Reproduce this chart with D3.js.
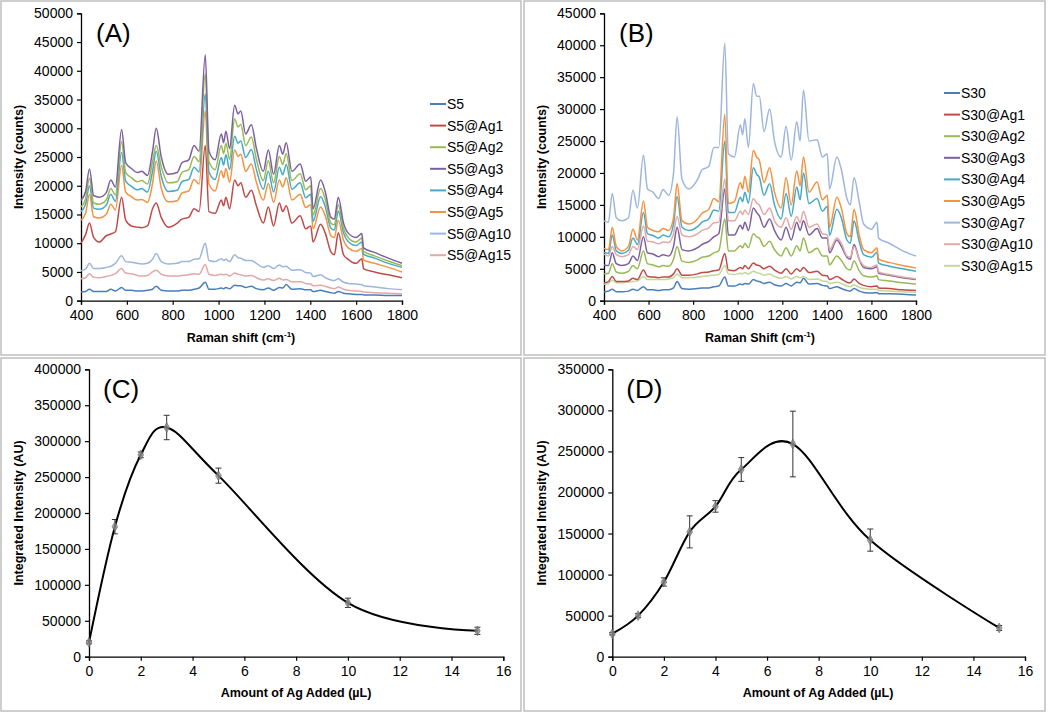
<!DOCTYPE html>
<html>
<head>
<meta charset="utf-8">
<script src="https://cdn.jsdelivr.net/npm/d3@7"></script>
<style>
body { margin: 0; background: #fff; }
svg text { font-family: "Liberation Sans", Arial, sans-serif; fill: #000; }
</style>
</head>
<body>
<svg id="fig" width="1050" height="713"></svg>
<script>
// Raman shift sample points (cm-1), shared by panels A and B
const shift = [400,420,437,455,480,510,530,550,577,595,620,645,665,690,712,728,750,780,820,840,
  870,893,915,942,958,985,1012,1022,1032,1048,1070,1085,1097,1118,1143,1165,1195,1217,1240,1265,
  1280,1295,1320,1356,1380,1402,1412,1445,1465,1490,1505,1522,1545,1565,1600,1625,1632,1680,1740,1800];

// Panel A intensities, thousands of counts
const namesA = ["S5","S5@Ag1","S5@Ag2","S5@Ag3","S5@Ag4","S5@Ag5","S5@Ag10","S5@Ag15"];
const s5 = [1.5,1.6,2.0,1.6,1.6,1.6,2.0,1.7,2.3,1.8,1.8,1.7,1.7,1.8,2.0,2.5,1.8,1.7,1.7,1.8,
  1.8,2.0,2.2,3.2,2.0,2.0,2.2,2.1,2.3,2.1,2.7,2.6,2.6,2.3,2.5,2.1,1.9,2.2,1.8,2.3,
  2.2,2.8,2.0,2.1,1.9,1.9,1.6,1.8,1.6,1.4,1.3,1.6,1.3,1.2,1.1,1.1,1.0,1.0,0.9,0.9];
const s5Ag1 = [10.0,11.5,13.5,11.0,10.2,11.3,11.6,12.0,18.0,14.0,13.0,12.8,12.7,13.0,16.0,17.0,14.5,12.8,13.5,14.2,
  14.5,16.0,15.5,27.0,15.5,15.2,17.5,16.5,18.0,16.0,21.0,20.0,20.5,18.0,19.2,16.5,13.5,16.3,13.0,17.0,
  15.5,16.5,13.5,14.8,12.5,13.0,10.2,13.3,11.8,8.5,8.0,11.8,8.0,7.2,6.5,7.3,5.6,5.0,4.5,4.0];
const s5Ag2 = [16.3,17.7,21.3,17.0,16.8,17.5,19.5,18.4,27.7,22.3,21.4,20.7,20.9,20.3,24.2,27.0,23.3,20.5,20.7,22.3,
  22.8,25.1,24.2,39.5,24.2,22.8,27.0,25.6,27.4,24.6,31.6,30.2,30.7,27.0,28.5,24.6,20.9,24.4,20.5,25.1,
  23.7,25.6,20.9,22.1,19.3,20.0,14.9,19.5,17.7,13.5,13.2,16.7,12.6,11.0,10.2,10.9,8.6,7.8,6.9,6.1];
const s5Ag3 = [17.5,19.0,22.9,18.3,18.0,18.8,21.0,19.8,29.8,24.0,23.0,22.3,22.5,21.8,26.0,30.0,25.0,22.0,22.3,24.0,
  24.5,27.0,26.0,42.8,26.0,24.5,29.0,27.5,29.5,26.5,34.0,32.5,33.0,29.0,30.6,26.5,22.5,26.2,22.0,27.0,
  25.5,27.5,22.5,23.8,20.8,21.5,16.0,21.0,19.0,14.5,14.2,18.0,13.5,11.8,11.0,11.7,9.2,8.4,7.4,6.5];
const s5Ag4 = [15.5,16.8,20.0,16.1,15.9,16.6,18.5,17.3,25.8,20.8,19.9,19.3,19.5,18.9,22.5,26.0,21.6,19.0,19.2,20.7,
  21.1,23.2,22.4,36.0,22.4,21.1,24.9,23.6,25.4,22.8,28.6,27.4,27.8,24.9,26.3,22.8,19.4,22.5,18.9,23.2,
  21.9,23.7,19.4,20.5,17.9,18.5,13.8,18.1,16.4,12.6,12.3,15.6,11.8,10.3,9.6,10.2,8.1,7.4,6.5,5.8];
const s5Ag5 = [14.0,15.2,18.5,14.6,14.4,15.0,16.8,15.8,23.5,18.9,18.1,17.5,17.6,17.1,20.4,24.3,19.6,17.2,17.4,18.7,
  19.1,21.1,20.3,33.0,20.3,19.1,22.6,21.4,23.0,20.6,26.2,25.1,25.5,22.5,23.8,20.6,17.5,20.4,17.1,21.0,
  19.8,21.4,17.5,18.5,16.2,16.7,12.5,16.3,14.8,11.3,11.0,14.0,10.5,9.2,8.6,9.1,7.1,6.5,5.8,5.0];
const s5Ag10 = [5.2,5.5,6.5,5.6,5.6,5.8,6.0,6.5,7.8,6.8,6.7,6.5,6.4,6.5,7.2,8.2,6.8,6.4,6.5,6.8,
  6.8,7.2,7.3,10.0,7.0,6.8,7.3,7.0,7.2,6.8,8.0,7.5,7.4,7.0,7.0,6.5,5.8,6.1,5.6,6.2,
  5.9,6.0,5.3,5.4,4.9,4.8,4.2,4.5,4.0,3.6,3.5,3.8,3.2,3.0,2.9,2.8,2.6,2.4,2.1,1.9];
const s5Ag15 = [3.8,4.0,4.7,4.1,4.0,4.2,4.4,4.7,5.6,4.8,4.7,4.4,4.3,4.4,5.0,5.3,4.6,4.3,4.3,4.4,
  4.5,4.7,4.6,6.3,4.6,4.4,4.6,4.5,4.6,4.3,4.8,4.6,4.5,4.3,4.4,4.0,3.6,3.8,3.5,3.9,
  3.6,3.7,3.3,3.3,3.0,2.9,2.6,2.7,2.5,2.2,2.1,2.4,2.0,1.8,1.7,1.6,1.5,1.4,1.3,1.2];

// Panel B intensities, thousands of counts
const namesB = ["S30","S30@Ag1","S30@Ag2","S30@Ag3","S30@Ag4","S30@Ag5","S30@Ag7","S30@Ag10","S30@Ag15"];
const s30 = [1.4,1.5,1.8,1.4,1.4,1.5,1.8,1.6,2.2,1.7,1.7,1.6,1.7,1.7,2.0,3.0,1.9,1.8,1.9,2.0,
  2.0,2.2,2.3,3.7,2.3,2.3,2.6,2.5,2.7,2.6,3.3,3.1,3.0,2.7,2.9,2.5,2.3,2.7,2.3,2.9,
  2.8,3.5,2.6,2.7,2.4,2.3,1.9,2.2,1.9,1.6,1.5,1.9,1.5,1.3,1.2,1.3,1.1,1.1,1.0,0.9];
const s30Ag1 = [2.8,3.0,3.8,3.0,3.0,3.1,3.5,3.3,4.8,3.8,3.7,3.6,3.7,3.7,4.2,5.0,4.0,4.0,4.2,4.4,
  4.5,4.7,4.8,7.4,4.8,4.7,5.2,5.0,5.5,5.0,5.9,5.6,5.5,5.0,5.4,4.8,4.3,5.0,4.2,5.0,
  4.6,5.2,4.4,4.6,4.0,3.9,3.3,3.8,3.4,2.9,2.8,3.4,2.7,2.4,2.2,2.3,2.0,1.9,1.7,1.6];
const s30Ag2 = [4.2,4.3,5.8,4.5,4.3,4.6,5.5,5.0,7.8,5.8,5.6,5.3,5.5,5.4,6.5,8.5,6.2,6.0,6.4,6.8,
  7.0,7.5,7.8,12.8,7.8,7.8,8.6,8.3,9.0,8.3,10.5,10.0,9.8,8.5,9.3,8.0,7.0,8.3,7.0,8.6,
  7.8,9.8,7.5,8.2,7.0,7.0,5.6,7.0,6.3,5.0,4.8,6.2,4.7,3.9,3.7,3.9,3.3,3.1,2.8,2.6];
const s30Ag3 = [5.6,5.5,7.5,5.8,5.5,5.8,7.0,6.3,10.0,7.5,7.3,6.9,7.2,7.0,8.5,11.5,8.0,7.8,8.3,8.8,
  9.3,10.0,10.5,17.5,10.3,10.3,11.8,11.2,12.3,11.0,14.5,13.8,13.3,11.5,12.8,11.0,9.5,11.5,9.5,12.3,
  11.0,12.5,10.3,11.3,9.8,9.8,7.5,9.5,8.5,6.8,6.5,8.8,6.5,5.2,5.0,5.3,4.3,4.0,3.6,3.3];
const s30Ag4 = [7.6,7.4,10.3,7.8,7.4,7.9,9.8,8.8,13.8,10.5,10.2,9.8,10.3,10.0,12.0,16.3,11.5,11.0,11.6,12.3,
  12.8,14.2,14.0,25.0,13.8,13.8,16.2,15.5,17.0,15.3,20.8,19.8,19.3,16.5,18.3,15.0,12.8,16.8,13.2,17.8,
  15.8,20.0,15.2,16.0,14.0,14.8,10.2,14.3,13.0,9.5,9.0,12.5,9.3,7.2,6.8,7.6,5.9,5.4,5.0,4.6];
const s30Ag5 = [8.2,8.0,11.5,8.5,7.8,8.5,11.2,9.5,15.6,11.5,11.0,10.8,11.3,11.0,13.0,18.3,12.5,12.0,12.8,13.7,
  14.3,16.0,15.5,29.2,15.2,15.5,18.5,17.5,19.5,17.0,23.5,22.5,22.0,18.5,20.8,17.0,14.5,19.3,15.0,20.3,
  18.0,22.5,17.0,18.6,15.8,16.5,11.5,16.2,14.5,10.5,10.0,14.3,10.3,8.0,7.5,8.3,6.5,6.0,5.5,5.1];
const s30Ag7 = [12.5,12.3,16.8,13.0,12.5,13.0,17.3,14.5,22.8,17.5,17.0,16.0,17.4,16.5,20.0,28.8,19.0,17.5,19.0,20.5,
  21.0,24.0,24.0,40.3,23.0,22.5,27.5,26.0,28.5,24.0,34.0,32.0,32.0,26.5,30.0,25.0,22.5,27.3,22.0,28.0,
  25.0,33.0,25.0,25.2,22.5,23.0,17.5,22.5,20.5,16.0,15.0,19.3,15.5,12.0,11.2,12.3,9.8,9.0,7.8,7.0];
const s30Ag10 = [7.3,7.0,8.5,7.2,6.9,7.2,8.5,8.0,11.7,9.3,9.2,8.9,9.2,9.1,10.5,13.2,10.3,10.0,10.5,11.0,
  11.4,12.2,12.3,19.0,12.5,12.5,14.0,13.5,14.2,13.5,16.0,15.3,15.0,13.5,14.5,12.5,11.5,13.0,11.2,13.2,
  12.2,14.0,11.5,12.0,10.5,10.3,8.0,9.8,9.0,7.0,6.8,8.5,6.5,5.5,5.2,5.6,4.5,4.1,3.7,3.4];
const s30Ag15 = [2.6,2.7,3.2,2.8,2.8,2.9,3.0,3.1,3.8,3.3,3.3,3.3,3.3,3.4,3.6,4.2,3.6,3.6,3.7,3.8,
  3.9,4.0,4.1,5.5,4.2,4.1,4.3,4.2,4.4,4.2,4.6,4.4,4.3,4.0,4.2,3.8,3.5,3.8,3.4,3.8,
  3.6,3.8,3.3,3.4,3.1,3.0,2.7,2.9,2.7,2.3,2.2,2.5,2.1,1.9,1.8,1.8,1.6,1.5,1.4,1.3];

// Panel C / D integrated intensities
const agC = [0, 1, 2, 3, 5, 10, 15];
const intC = [20000, 181000, 281000, 319000, 252000, 75000, 36000];
const errC = [2000, 10000, 4000, 17000, 10500, 6500, 5000];
const agD = [0, 1, 2, 3, 4, 5, 7, 10, 15];
const intD = [28000, 50000, 91000, 152000, 183000, 228000, 259000, 142000, 35000];
const errD = [1500, 2500, 5000, 19500, 7000, 14500, 40000, 13500, 3000];

const xTicksRaman = d3.range(400, 1801, 200);
const xTicksAg = d3.range(0, 17, 2);

const colorsA = ["#4a7ebb","#be4b48","#98b954","#7d60a0","#46aac5","#f69240","#9db6de","#e2a9a7"];
const colorsB = ["#4a7ebb","#be4b48","#98b954","#7d60a0","#46aac5","#f69240","#9db6de","#e2a9a7","#c4d79b"];

const svg = d3.select("#fig");

// panel frames
[[1,1,520,354],[524,1,521,354],[1,358,520,353],[524,358,521,353]].forEach(b => {
  svg.append("rect").attr("x", b[0]).attr("y", b[1]).attr("width", b[2]).attr("height", b[3])
    .attr("fill", "none").attr("stroke", "#bfbfbf").attr("stroke-width", 1.5);
});

function axes(g, x, y, xTicks, yTicks) {
  const xa = g.append("g").attr("transform", `translate(0,${y.range()[0]})`)
    .call(d3.axisBottom(x).tickValues(xTicks).tickSizeOuter(0).tickSize(4).tickPadding(5).tickFormat(d3.format("d")));
  const ya = g.append("g").attr("transform", `translate(${x.range()[0]},0)`)
    .call(d3.axisLeft(y).tickValues(yTicks).tickSizeOuter(0).tickSize(4).tickPadding(4).tickFormat(d3.format("d")));
  [xa, ya].forEach(a => {
    a.select(".domain").attr("stroke", "#000").attr("stroke-width", 1.3);
    a.selectAll(".tick line").attr("stroke", "#000").attr("stroke-width", 1.2);
    a.selectAll("text").attr("font-size", 14).attr("font-family", '"Liberation Sans", Arial, sans-serif').attr("fill", "#000");
  });
}

function ramanTitle(g, cx, label) {
  const t = g.append("text").attr("x", cx).attr("y", 342).attr("text-anchor", "middle")
    .attr("font-size", 12.5).attr("font-weight", "bold");
  t.append("tspan").text(label + " (cm");
  t.append("tspan").attr("dy", -5).attr("font-size", 8).text("-1");
  t.append("tspan").attr("dy", 5).text(")");
}

function yTitle(g, cx, cy, label) {
  g.append("text").attr("transform", `translate(${cx},${cy}) rotate(-90)`)
    .attr("text-anchor", "middle").attr("font-size", 12.5).attr("font-weight", "bold").text(label);
}

function spectraPanel(p) {
  const g = svg.append("g");
  const x = d3.scaleLinear().domain([400, 1800]).range([p.left, p.right]);
  const y = d3.scaleLinear().domain([0, p.yMax]).range([300.7, 13.3]);
  axes(g, x, y, xTicksRaman, d3.range(0, p.yMax + 1, 5000));
  const line = d3.line().x((d, i) => x(shift[i])).y(d => y(d * 1000)).curve(d3.curveMonotoneX);
  p.order.forEach(k => {
    g.append("path").datum(p.series[k]).attr("d", line).attr("fill", "none")
      .attr("stroke", p.colors[k]).attr("stroke-width", 1.5).attr("stroke-linejoin", "round");
  });
  const leg = g.append("g");
  p.names.forEach((n, i) => {
    const ly = p.legTop + i * 21.6;
    leg.append("line").attr("x1", p.legX).attr("x2", p.legX + 16).attr("y1", ly).attr("y2", ly)
      .attr("stroke", p.colors[i]).attr("stroke-width", 2);
    leg.append("text").attr("x", p.legX + 17).attr("y", ly + 5).attr("font-size", 14).text(n);
  });
  g.append("text").attr("x", p.left + 15).attr("y", 42).attr("font-size", 26).text(p.tag);
  ramanTitle(g, p.titleX, p.xLabel);
  yTitle(g, p.yTitleX, 157, "Intensity (counts)");
}

spectraPanel({
  left: 81, right: 402, yMax: 50000, names: namesA, colors: colorsA,
  series: [s5, s5Ag1, s5Ag2, s5Ag3, s5Ag4, s5Ag5, s5Ag10, s5Ag15],
  order: [7, 6, 0, 1, 5, 4, 2, 3],
  legX: 430, legTop: 104, tag: "(A)", titleX: 241, xLabel: "Raman shift", yTitleX: 23
});
spectraPanel({
  left: 604, right: 916, yMax: 45000, names: namesB, colors: colorsB,
  series: [s30, s30Ag1, s30Ag2, s30Ag3, s30Ag4, s30Ag5, s30Ag7, s30Ag10, s30Ag15],
  order: [0, 8, 1, 2, 3, 7, 4, 5, 6],
  legX: 944, legTop: 93, tag: "(B)", titleX: 760, xLabel: "Raman Shift", yTitleX: 546
});

function agPanel(p) {
  const g = svg.append("g");
  const x = d3.scaleLinear().domain([0, 16]).range([p.left, p.right]);
  const y = d3.scaleLinear().domain([0, p.yMax]).range([656.7, 369.3]);
  axes(g, x, y, xTicksAg, d3.range(0, p.yMax + 1, 50000));
  const pts = p.ag.map((a, i) => [a, p.val[i], p.err[i]]);
  // error bars
  pts.forEach(d => {
    const cx = x(d[0]), y1 = y(d[1] - d[2]), y2 = y(d[1] + d[2]);
    g.append("line").attr("x1", cx).attr("x2", cx).attr("y1", y1).attr("y2", y2).attr("stroke", "#333").attr("stroke-width", 1);
    [y1, y2].forEach(yy => g.append("line").attr("x1", cx - 3).attr("x2", cx + 3).attr("y1", yy).attr("y2", yy)
      .attr("stroke", "#333").attr("stroke-width", 1));
  });
  g.append("path").datum(pts)
    .attr("d", d3.line().x(d => x(d[0])).y(d => y(d[1])).curve(d3.curveCardinal.tension(0)))
    .attr("fill", "none").attr("stroke", "#000").attr("stroke-width", 2);
  g.selectAll(".mk").data(pts).enter().append("path")
    .attr("transform", d => `translate(${x(d[0])},${y(d[1])})`)
    .attr("d", d3.symbol(d3.symbolDiamond, 28))
    .attr("fill", "#8c8c8c").attr("fill-opacity", 0.8).attr("stroke", "#666").attr("stroke-width", 0.6);
  g.append("text").attr("x", p.left + 14).attr("y", 398).attr("font-size", 26).text(p.tag);
  g.append("text").attr("x", p.titleX).attr("y", 697).attr("text-anchor", "middle")
    .attr("font-size", 12.5).attr("font-weight", "bold").text("Amount of Ag Added (\u00b5L)");
  yTitle(g, p.yTitleX, 513, "Integrated Intensity (AU)");
}

agPanel({ left: 89, right: 503.3, yMax: 400000, ag: agC, val: intC, err: errC, tag: "(C)", titleX: 296, yTitleX: 23 });
agPanel({ left: 612.3, right: 1025, yMax: 350000, ag: agD, val: intD, err: errD, tag: "(D)", titleX: 818, yTitleX: 546 });
</script>
</body>
</html>
